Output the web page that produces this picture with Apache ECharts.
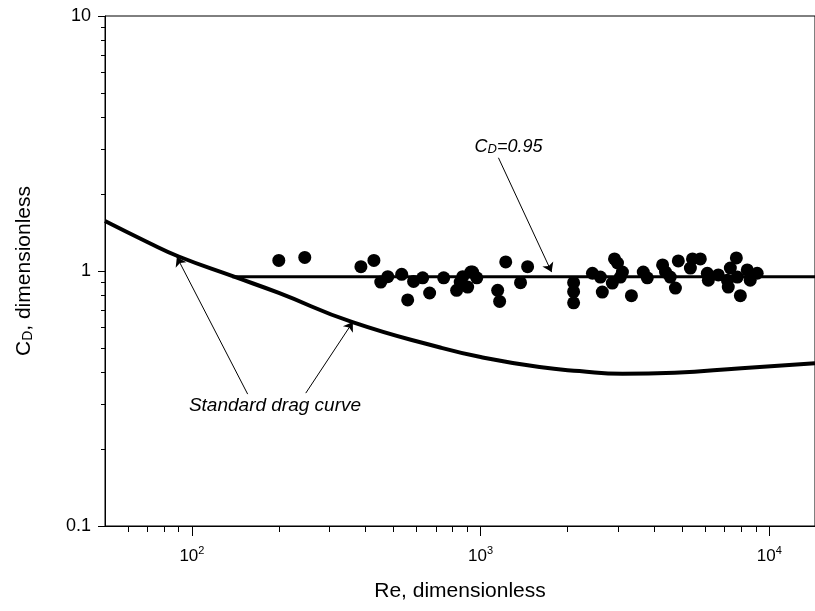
<!DOCTYPE html>
<html>
<head>
<meta charset="UTF-8">
<title>Drag coefficient vs Reynolds number</title>
<script src="https://cdn.jsdelivr.net/npm/echarts@6/dist/echarts.min.js"></script>
<style>
html, body { margin: 0; padding: 0; background: #fff; }
#chart { width: 815px; height: 611px; }
</style>
</head>
<body>
<div id="chart"></div>
<script>
// standard drag curve
var dragRe = [50, 70, 90, 140, 200, 360, 730, 1000, 1600, 2200, 3100, 4700, 8000, 14400];
var dragCd = [1.57, 1.30, 1.14, 0.95, 0.82, 0.63, 0.50, 0.46, 0.42, 0.405, 0.395, 0.399, 0.416, 0.435];

// constant C_D = 0.95 line
var fitRe = [138, 14400];
var fitCd = [0.95, 0.95];

// measured points
var ptRe = [200, 246, 385, 427, 451, 477, 533, 559, 586, 630,
            666, 745, 826, 850, 867, 902, 925, 938, 970, 1146,
            1164, 1222, 1375, 1455, 2100, 2100, 2100, 2440, 2600, 2640,
            2860, 2910, 2980, 3050, 3100, 3330, 3660, 3780, 4270, 4370,
            4540, 4730, 4840, 5330, 5420, 5770, 6100, 6150, 6660, 7160,
            7210, 7330, 7690, 7750, 7940, 8390, 8590, 9080];
var ptCd = [1.10, 1.13, 1.04, 1.10, 0.905, 0.95, 0.97, 0.77, 0.91, 0.94,
            0.82, 0.94, 0.84, 0.905, 0.95, 0.865, 0.99, 0.99, 0.94, 0.84,
            0.76, 1.085, 0.90, 1.04, 0.90, 0.83, 0.75, 0.98, 0.947, 0.827,
            0.897, 1.115, 1.075, 0.947, 0.99, 0.80, 0.99, 0.94, 1.056, 0.99,
            0.947, 0.857, 1.095, 1.027, 1.115, 1.115, 0.98, 0.92, 0.965, 0.92,
            0.865, 1.027, 1.125, 0.947, 0.80, 1.01, 0.92, 0.98];

// axes
var xMin = 50, xMax = 14400;
var yMin = 0.1, yMax = 10;
var xMajor = [100, 1000, 10000];
var minorMult = [2, 3, 4, 5, 6, 7, 8, 9];

var font = 'Liberation Sans, Arial, sans-serif';

function zip(a, b) {
    var out = [];
    for (var i = 0; i < a.length; i++) out.push([a[i], b[i]]);
    return out;
}

function minorLogs(lo, hi) {
    var out = [];
    for (var e = Math.floor(Math.log10(lo)); e <= Math.ceil(Math.log10(hi)); e++) {
        for (var k = 0; k < minorMult.length; k++) {
            var v = minorMult[k] * Math.pow(10, e);
            if (v > lo && v < hi) out.push(Math.log10(v));
        }
    }
    return out;
}

var myChart = echarts.init(document.getElementById('chart'));

myChart.setOption({
    animation: false,
    backgroundColor: '#fff',
    textStyle: { fontFamily: font, color: '#000' },
    grid: {
        left: 105, right: 0, top: 16, bottom: 85,
        show: true, borderColor: '#000', borderWidth: 1, backgroundColor: 'transparent'
    },
    xAxis: [{
        type: 'log', min: xMin, max: xMax, position: 'bottom',
        axisLine: { onZero: false, lineStyle: { color: '#000', width: 1 } },
        axisTick: { show: false }, axisLabel: { show: false }, splitLine: { show: false }
    }, {
        // decade ticks and labels, drawn in log10 space
        type: 'value', min: Math.log10(xMin), max: Math.log10(xMax), position: 'bottom',
        axisLine: { show: false, onZero: false },
        axisTick: { show: true, inside: false, length: 10, lineStyle: { color: '#000' },
                    customValues: xMajor.map(function (v) { return Math.log10(v); }) },
        axisLabel: {
            show: true, margin: 19,
            customValues: xMajor.map(function (v) { return Math.log10(v); }),
            formatter: function (v) { return '{b|10}{s|' + Math.round(v) + '}'; },
            rich: {
                b: { fontSize: 17, fontFamily: font, color: '#000', lineHeight: 20, verticalAlign: 'bottom' },
                s: { fontSize: 11, fontFamily: font, color: '#000', lineHeight: 11, verticalAlign: 'top' }
            }
        },
        splitLine: { show: false },
        name: 'Re, dimensionless', nameLocation: 'middle', nameGap: 55,
        nameTextStyle: { fontSize: 21, fontFamily: font, color: '#000' }
    }, {
        type: 'value', min: Math.log10(xMin), max: Math.log10(xMax), position: 'bottom',
        axisLine: { show: false, onZero: false },
        axisTick: { show: true, inside: false, length: 6, lineStyle: { color: '#000' },
                    customValues: minorLogs(xMin, xMax) },
        axisLabel: { show: false }, splitLine: { show: false }
    }],
    yAxis: [{
        type: 'log', min: yMin, max: yMax, position: 'left',
        axisLine: { onZero: false, lineStyle: { color: '#000', width: 1 } },
        axisTick: { show: true, inside: false, length: 7, lineStyle: { color: '#000' } },
        axisLabel: { fontSize: 18, margin: 14, color: '#000', fontFamily: font },
        splitLine: { show: false },
        name: '{a|C}{d|D}{a|, dimensionless}', nameLocation: 'middle', nameGap: 70,
        nameTextStyle: {
            rich: {
                a: { fontSize: 21, fontFamily: font, color: '#000', lineHeight: 24, verticalAlign: 'bottom' },
                d: { fontSize: 14, fontFamily: font, color: '#000', lineHeight: 14, verticalAlign: 'bottom' }
            }
        }
    }, {
        type: 'value', min: Math.log10(yMin), max: Math.log10(yMax), position: 'left',
        axisLine: { show: false, onZero: false },
        axisTick: { show: true, inside: false, length: 4, lineStyle: { color: '#000' },
                    customValues: minorLogs(yMin, yMax) },
        axisLabel: { show: false }, splitLine: { show: false }
    }],
    series: [{
        name: 'Standard drag curve',
        type: 'line', xAxisIndex: 0, yAxisIndex: 0,
        data: zip(dragRe, dragCd),
        smooth: 0.5, showSymbol: false, symbol: 'none',
        lineStyle: { color: '#000', width: 4 },
        silent: true, z: 3
    }, {
        name: 'CD=0.95',
        type: 'line', xAxisIndex: 0, yAxisIndex: 0,
        data: zip(fitRe, fitCd),
        showSymbol: false, symbol: 'none',
        lineStyle: { color: '#000', width: 3 },
        silent: true, z: 3,
        markLine: {
            silent: true, symbol: ['none', 'arrow'], symbolSize: 9,
            label: { show: false },
            lineStyle: { color: '#000', width: 1, type: 'solid' },
            data: [
                [{ coord: [1153, 2.78] }, { coord: [1762, 0.99] }],
                [{ coord: [156, 0.329] }, { coord: [88.7, 1.135] }],
                [{ coord: [248, 0.332] }, { coord: [361, 0.631] }]
            ]
        },
        markPoint: {
            silent: true, symbol: 'circle', symbolSize: 0,
            label: { show: true, position: 'inside' },
            data: [{
                coord: [1250, 3.13],
                label: {
                    formatter: '{i|C}{d|D}{i|=0.95}',
                    rich: {
                        i: { fontSize: 18, fontStyle: 'italic', fontFamily: font, color: '#000', lineHeight: 22, verticalAlign: 'bottom' },
                        d: { fontSize: 13, fontStyle: 'italic', fontFamily: font, color: '#000', lineHeight: 13, verticalAlign: 'bottom' }
                    }
                }
            }, {
                coord: [194, 0.295],
                label: {
                    formatter: 'Standard drag curve',
                    fontSize: 19, fontStyle: 'italic', fontFamily: font, color: '#000'
                }
            }]
        }
    }, {
        name: 'Data',
        type: 'scatter', xAxisIndex: 0, yAxisIndex: 0,
        data: zip(ptRe, ptCd),
        symbol: 'circle', symbolSize: 13,
        itemStyle: { color: '#000', opacity: 1 },
        silent: true, z: 4
    }]
});
</script>
</body>
</html>
